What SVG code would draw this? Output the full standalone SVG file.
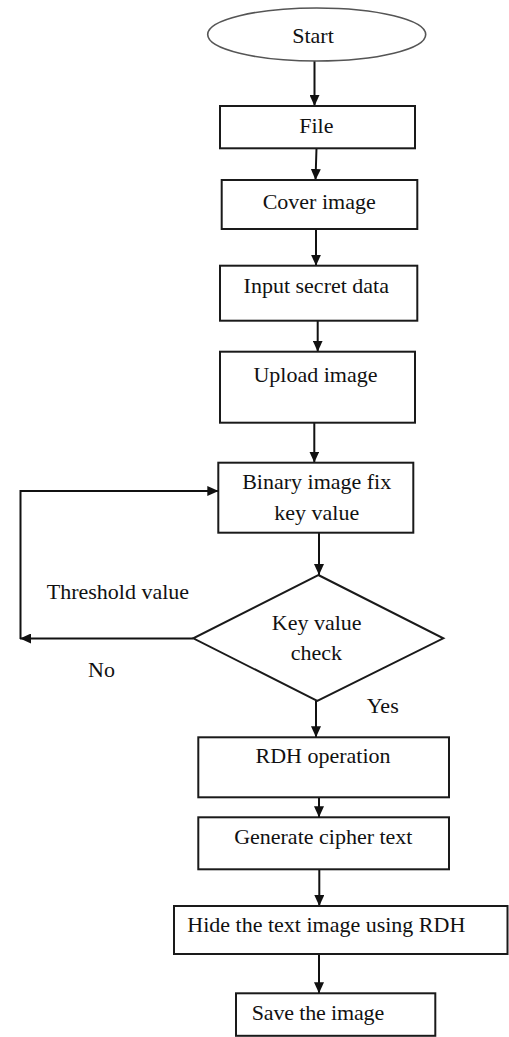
<svg xmlns="http://www.w3.org/2000/svg" width="509" height="1037" viewBox="0 0 509 1037">
<style>
  .box { fill: #fff; stroke: #1a1a1a; stroke-width: 2; }
  .ell { fill: #fff; stroke: #555; stroke-width: 1.6; }
  .t { font-family: "Liberation Serif", "Times New Roman", serif; font-size: 22px; fill: #111; }
  .c { text-anchor: middle; }
  .conn { fill: none; stroke: #111; stroke-width: 2; }
</style>
<defs>
  <marker id="arr" markerUnits="userSpaceOnUse" markerWidth="11" markerHeight="10" refX="11" refY="5" orient="auto">
    <path d="M0,0 L11,5 L0,10 z" fill="#111"/>
  </marker>
</defs>
<rect width="509" height="1037" fill="#fff"/>

<g id="connectors">
  <path class="conn" d="M314.5,61 V106" marker-end="url(#arr)"/>
  <path class="conn" d="M316.5,148 L315.5,180" marker-end="url(#arr)"/>
  <path class="conn" d="M316,229 V265.7" marker-end="url(#arr)"/>
  <path class="conn" d="M317.7,320.7 V351.7" marker-end="url(#arr)"/>
  <path class="conn" d="M314.3,422.7 V462.5" marker-end="url(#arr)"/>
  <path class="conn" d="M319,533 V575" marker-end="url(#arr)"/>
  <path class="conn" d="M193.3,638.5 H20" marker-end="url(#arr)"/>
  <path class="conn" d="M20.5,639 V491 H218.3" marker-end="url(#arr)"/>
  <path class="conn" d="M316,701 V737.3" marker-end="url(#arr)"/>
  <path class="conn" d="M319,797.3 V817.3" marker-end="url(#arr)"/>
  <path class="conn" d="M319.3,869.3 V906" marker-end="url(#arr)"/>
  <path class="conn" d="M319,954 V993.3" marker-end="url(#arr)"/>
</g>

<g id="start">
  <ellipse class="ell" cx="316.7" cy="34.5" rx="109" ry="26.5"/>
  <text class="t c" x="313" y="42.5">Start</text>
</g>
<g id="file">
  <rect class="box" x="220" y="106" width="195" height="42.3"/>
  <text class="t c" x="316.3" y="133.3">File</text>
</g>
<g id="cover-image">
  <rect class="box" x="221.7" y="180" width="195.6" height="49"/>
  <text class="t c" x="319.2" y="208.5">Cover image</text>
</g>
<g id="input-secret-data">
  <rect class="box" x="220" y="265.7" width="197.3" height="55"/>
  <text class="t c" x="316.3" y="293.3">Input secret data</text>
</g>
<g id="upload-image">
  <rect class="box" x="220" y="351.7" width="195" height="71"/>
  <text class="t c" x="315.5" y="381.5">Upload image</text>
</g>
<g id="binary-image">
  <rect class="box" x="218.3" y="462.7" width="195" height="70"/>
  <text class="t c" x="316.7" y="489.3">Binary image fix</text>
  <text class="t c" x="316.8" y="520">key value</text>
</g>
<g id="key-value-check">
  <polygon class="box" points="318.3,575 443.3,638.3 317.3,701 193.3,638.3"/>
  <text class="t c" x="316.7" y="630">Key value</text>
  <text class="t c" x="316.3" y="660">check</text>
</g>
<g id="labels">
  <text class="t" x="46.7" y="599">Threshold value</text>
  <text class="t" x="88" y="677">No</text>
  <text class="t" x="366.7" y="713">Yes</text>
</g>
<g id="rdh-operation">
  <rect class="box" x="198.3" y="737.3" width="250.7" height="60"/>
  <text class="t c" x="323" y="763.3">RDH operation</text>
</g>
<g id="generate-cipher-text">
  <rect class="box" x="198.3" y="817.3" width="250.7" height="52"/>
  <text class="t c" x="323.3" y="844">Generate cipher text</text>
</g>
<g id="hide-text">
  <rect class="box" x="174" y="906" width="333.5" height="48"/>
  <text class="t" x="187.3" y="931.5" textLength="278" lengthAdjust="spacing">Hide the text image using RDH</text>
</g>
<g id="save-image">
  <rect class="box" x="236" y="993.3" width="199.3" height="42.5"/>
  <text class="t" x="251.7" y="1020" textLength="132.5" lengthAdjust="spacing">Save the image</text>
</g>
</svg>
